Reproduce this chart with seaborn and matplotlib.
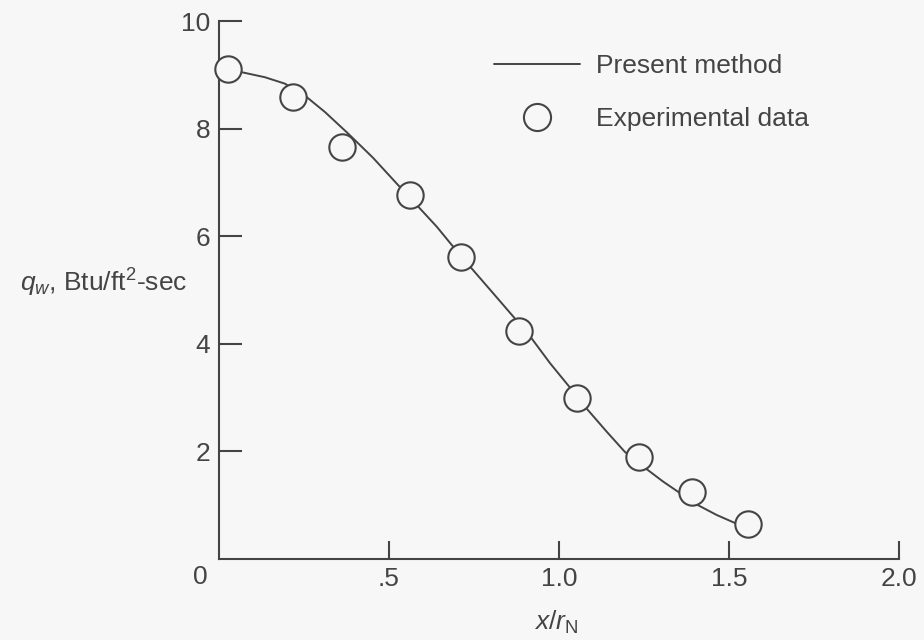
import numpy as np
import pandas as pd
import matplotlib
matplotlib.use("Agg")
import matplotlib.pyplot as plt
from matplotlib.lines import Line2D
import seaborn as sns

# ---- data ----
curve_x = [0.0, 0.063, 0.136, 0.195, 0.259, 0.313, 0.381, 0.454, 0.528,
           0.587, 0.641, 0.685, 0.744, 0.807, 0.871, 0.920, 0.974, 1.027, 1.081,
           1.140, 1.194, 1.258, 1.306, 1.350, 1.409, 1.463, 1.517, 1.551]
curve_y = [9.09, 9.06, 8.96, 8.84, 8.59, 8.31, 7.91, 7.46, 6.95,
           6.55, 6.18, 5.84, 5.40, 4.94, 4.47, 4.10, 3.64, 3.23, 2.80,
           2.37, 1.99, 1.67, 1.44, 1.25, 1.00, 0.82, 0.67, 0.60]
exp_x = [0.028, 0.218, 0.362, 0.562, 0.712, 0.882, 1.053, 1.235, 1.390, 1.554]
exp_y = [9.11, 8.59, 7.66, 6.77, 5.61, 4.24, 2.99, 1.90, 1.24, 0.65]
xticks = [0.5, 1.0, 1.5, 2.0]
xtick_labels = [".5", "1.0", "1.5", "2.0"]
yticks = [2, 4, 6, 8, 10]
ytick_labels = ["2", "4", "6", "8", "10"]

BG = "#f7f7f7"
INK = "#444444"
FS = 19

sns.set_theme(style="ticks")
plt.rcParams["font.family"] = ["Liberation Sans", "DejaVu Sans"]
plt.rcParams["mathtext.fontset"] = "custom"
plt.rcParams["mathtext.rm"] = "Liberation Sans"
plt.rcParams["mathtext.it"] = "Liberation Sans:italic"
plt.rcParams["mathtext.bf"] = "Liberation Sans:bold"

W, H = 924, 640
fig = plt.figure(figsize=(W / 100, H / 100), dpi=100, facecolor=BG)
ax = fig.add_axes([218.6 / W, (640 - 559) / H, 680.7 / W, 537.7 / H])
ax.set_facecolor(BG)

curve = pd.DataFrame({"x": curve_x, "y": curve_y})
exp = pd.DataFrame({"x": exp_x, "y": exp_y})

sns.lineplot(data=curve, x="x", y="y", ax=ax, color=INK, linewidth=1.4,
             sort=False, estimator=None, solid_joinstyle="round",
             solid_capstyle="round")
sns.scatterplot(data=exp, x="x", y="y", ax=ax, s=360, marker="o",
                facecolor=BG, edgecolor=INK, linewidth=1.5, zorder=3, clip_on=False)

ax.set_xlim(0, 2.0)
ax.set_ylim(0, 10)
for s in ["top", "right"]:
    ax.spines[s].set_visible(False)
for s in ["left", "bottom"]:
    ax.spines[s].set_color(INK)
    ax.spines[s].set_linewidth(1.5)

ax.set_xticks(xticks)
ax.set_xticklabels(xtick_labels)
ax.set_yticks(yticks)
ax.set_yticklabels(ytick_labels)
ax.tick_params(axis="x", direction="in", length=13, width=1.5, color=INK,
               labelcolor=INK, labelsize=FS, pad=6)
ax.tick_params(axis="y", direction="in", length=16.5, width=1.5, color=INK,
               labelcolor=INK, labelsize=FS, pad=6)

ax.set_xlabel("")
ax.set_ylabel("")

# origin label
ax.annotate("0", xy=(0, 0), xycoords="data", xytext=(-18, -18),
            textcoords="offset pixels", ha="center", va="center",
            fontsize=FS, color=INK)

fig.text(20 / W, 1 - 283 / H, r"$q_{w}$, Btu/ft$^{2}$-sec", ha="left",
         va="center", fontsize=FS, color=INK)
fig.text(556 / W, 1 - 622 / H, r"$x/r_{\mathrm{N}}$", ha="center",
         va="center", fontsize=FS, color=INK)

handles = [
    Line2D([], [], color=INK, linewidth=1.4),
    Line2D([], [], color=INK, linestyle="none", marker="o", markersize=19.5,
           markerfacecolor=BG, markeredgecolor=INK, markeredgewidth=1.5),
]
leg = ax.legend(handles, ["Present method", "Experimental data"],
                loc="upper left", bbox_to_anchor=(494 / W, 1 - 54 / H),
                bbox_transform=fig.transFigure, frameon=False, fontsize=FS,
                handlelength=3.26, handletextpad=0.6, labelspacing=1.1,
                borderaxespad=0, borderpad=0, numpoints=1)
for t in leg.get_texts():
    t.set_color(INK)

fig.savefig("out.png", dpi=100, facecolor=BG)
